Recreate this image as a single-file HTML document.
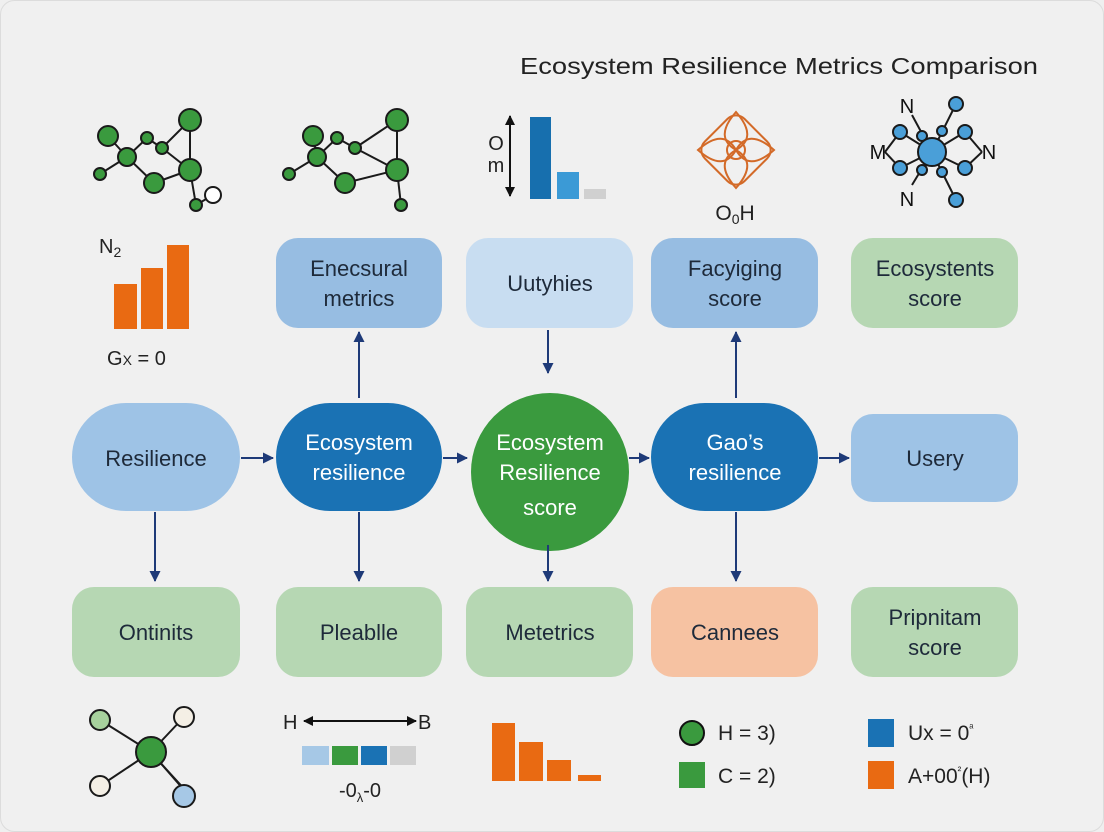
<!DOCTYPE html>
<html><head><meta charset="utf-8"><style>
html,body{margin:0;padding:0;background:#efefef;}
svg{display:block;font-family:"Liberation Sans",sans-serif;}
</style></head><body>
<svg width="1104" height="832" viewBox="0 0 1104 832">
<defs>
<marker id="ah" markerWidth="11" markerHeight="11" refX="10" refY="5.5" orient="auto" markerUnits="userSpaceOnUse"><path d="M0,0 L11,5.5 L0,11 Z" fill="#1e3a78"/></marker>
<marker id="ab" markerWidth="10" markerHeight="10" refX="9" refY="5" orient="auto-start-reverse" markerUnits="userSpaceOnUse"><path d="M0,0 L10,5 L0,10 Z" fill="#111"/></marker>
</defs>
<rect x="0.5" y="0.5" width="1103" height="831" rx="14" fill="#f0f0f0" stroke="#dcdcdc"/>
<text x="520" y="74" font-size="23" textLength="518" lengthAdjust="spacingAndGlyphs" fill="#222">Ecosystem Resilience Metrics Comparison</text>

<!-- network icon 1 -->
<g stroke="#1a1a1a" stroke-width="2">
<line x1="108" y1="136" x2="127" y2="157"/><line x1="100" y1="174" x2="127" y2="157"/><line x1="127" y1="157" x2="147" y2="138"/><line x1="147" y1="138" x2="162" y2="148"/><line x1="162" y1="148" x2="190" y2="120"/><line x1="190" y1="120" x2="190" y2="170"/><line x1="162" y1="148" x2="190" y2="170"/><line x1="127" y1="157" x2="154" y2="183"/><line x1="154" y1="183" x2="190" y2="170"/><line x1="190" y1="170" x2="196" y2="205"/><line x1="196" y1="205" x2="213" y2="195"/>
<g fill="#3a9a3e"><circle cx="108" cy="136" r="10"/><circle cx="100" cy="174" r="6"/><circle cx="127" cy="157" r="9"/><circle cx="147" cy="138" r="6"/><circle cx="162" cy="148" r="6"/><circle cx="190" cy="120" r="11"/><circle cx="190" cy="170" r="11"/><circle cx="154" cy="183" r="10"/><circle cx="196" cy="205" r="6"/></g>
<circle cx="213" cy="195" r="8" fill="#fff"/>
</g>
<!-- network icon 2 -->
<g stroke="#1a1a1a" stroke-width="2">
<line x1="313" y1="136" x2="317" y2="157"/><line x1="289" y1="174" x2="317" y2="157"/><line x1="317" y1="157" x2="337" y2="138"/><line x1="337" y1="138" x2="355" y2="148"/><line x1="355" y1="148" x2="397" y2="120"/><line x1="397" y1="120" x2="397" y2="170"/><line x1="355" y1="148" x2="397" y2="170"/><line x1="317" y1="157" x2="345" y2="183"/><line x1="345" y1="183" x2="397" y2="170"/><line x1="397" y1="170" x2="401" y2="205"/>
<g fill="#3a9a3e"><circle cx="313" cy="136" r="10"/><circle cx="289" cy="174" r="6"/><circle cx="317" cy="157" r="9"/><circle cx="337" cy="138" r="6"/><circle cx="355" cy="148" r="6"/><circle cx="397" cy="120" r="11"/><circle cx="397" cy="170" r="11"/><circle cx="345" cy="183" r="10"/><circle cx="401" cy="205" r="6"/></g>
</g>
<!-- bar icon top -->
<line x1="510" y1="116" x2="510" y2="196" stroke="#111" stroke-width="2" marker-start="url(#ab)" marker-end="url(#ab)"/>
<text x="496" y="150" font-size="20" text-anchor="middle" fill="#222">O</text>
<text x="496" y="172" font-size="20" text-anchor="middle" fill="#222">m</text>
<rect x="530" y="117" width="21" height="82" fill="#176fae"/>
<rect x="557" y="172" width="22" height="27" fill="#3b9ad6"/>
<rect x="584" y="189" width="22" height="10" fill="#d0d0d0"/>
<!-- orange knot -->
<g fill="none" stroke="#d36a28" stroke-width="2">
<rect x="708" y="122" width="56" height="56" rx="12" transform="rotate(45 736 150)"/>
<circle cx="736" cy="150" r="9"/>
<path d="M736 112 C720 130,722 142,736 150 C750 142,752 130,736 112 Z"/>
<path d="M736 188 C720 170,722 158,736 150 C750 158,752 170,736 188 Z"/>
<path d="M698 150 C716 134,728 136,736 150 C728 164,716 166,698 150 Z"/>
<path d="M774 150 C756 134,744 136,736 150 C744 164,756 166,774 150 Z"/>
</g>
<text x="735" y="220" font-size="21" text-anchor="middle" fill="#222">O<tspan font-size="14" dy="4">0</tspan><tspan dy="-4">H</tspan></text>
<!-- blue molecule -->
<g stroke="#1a1a1a" stroke-width="2">
<line x1="912" y1="115" x2="932" y2="152"/><line x1="956" y1="104" x2="932" y2="152"/><line x1="900" y1="132" x2="932" y2="152"/><line x1="965" y1="132" x2="932" y2="152"/><line x1="900" y1="168" x2="932" y2="152"/><line x1="965" y1="168" x2="932" y2="152"/><line x1="912" y1="185" x2="932" y2="152"/><line x1="956" y1="200" x2="932" y2="152"/><line x1="885" y1="152" x2="900" y2="132"/><line x1="885" y1="152" x2="900" y2="168"/><line x1="982" y1="152" x2="965" y2="132"/><line x1="982" y1="152" x2="965" y2="168"/>
<g fill="#4a9fd8"><circle cx="956" cy="104" r="7"/><circle cx="900" cy="132" r="7"/><circle cx="965" cy="132" r="7"/><circle cx="900" cy="168" r="7"/><circle cx="965" cy="168" r="7"/><circle cx="956" cy="200" r="7"/><circle cx="922" cy="136" r="5"/><circle cx="942" cy="131" r="5"/><circle cx="922" cy="170" r="5"/><circle cx="942" cy="172" r="5"/><circle cx="932" cy="152" r="14"/></g>
</g>
<text x="907" y="113" font-size="20" text-anchor="middle" fill="#111">N</text>
<text x="878" y="159" font-size="20" text-anchor="middle" fill="#111">M</text>
<text x="989" y="159" font-size="20" text-anchor="middle" fill="#111">N</text>
<text x="907" y="206" font-size="20" text-anchor="middle" fill="#111">N</text>
<!-- orange bars left -->
<text x="99" y="253" font-size="20" fill="#222">N<tspan font-size="14" dy="4">2</tspan></text>
<rect x="114" y="284" width="23" height="45" fill="#e96a12"/>
<rect x="141" y="268" width="22" height="61" fill="#e96a12"/>
<rect x="167" y="245" width="22" height="84" fill="#e96a12"/>
<text x="107" y="365" font-size="20" fill="#222">G<tspan font-size="14">X</tspan> = 0</text>

<!-- top row boxes -->
<g font-size="22" text-anchor="middle" fill="#1e2a3a">
<rect x="276" y="238" width="166" height="90" rx="22" fill="#97bde2"/>
<text x="359" y="276">Enecsural</text><text x="359" y="306">metrics</text>
<rect x="466" y="238" width="167" height="90" rx="22" fill="#c8ddf1"/>
<text x="550" y="291">Uutyhies</text>
<rect x="651" y="238" width="167" height="90" rx="22" fill="#97bde2"/>
<text x="735" y="276">Facyiging</text><text x="735" y="306">score</text>
<rect x="851" y="238" width="167" height="90" rx="22" fill="#b6d7b3"/>
<text x="935" y="276">Ecosystents</text><text x="935" y="306">score</text>

<!-- middle row -->
<rect x="72" y="403" width="168" height="108" rx="54" fill="#9ec3e6"/>
<text x="156" y="466">Resilience</text>
<rect x="276" y="403" width="166" height="108" rx="54" fill="#1a72b4"/>
<text x="359" y="450" fill="#fff">Ecosystem</text><text x="359" y="480" fill="#fff">resilience</text>
<circle cx="550" cy="472" r="79" fill="#3a9a3e"/>
<text x="550" y="450" fill="#fff">Ecosystem</text><text x="550" y="480" fill="#fff">Resilience</text><text x="550" y="515" fill="#fff">score</text>
<rect x="651" y="403" width="167" height="108" rx="54" fill="#1a72b4"/>
<text x="735" y="450" fill="#fff">Gao’s</text><text x="735" y="480" fill="#fff">resilience</text>
<rect x="851" y="414" width="167" height="88" rx="22" fill="#9ec3e6"/>
<text x="935" y="466">Usery</text>

<!-- bottom row -->
<rect x="72" y="587" width="168" height="90" rx="22" fill="#b6d7b3"/>
<text x="156" y="640">Ontinits</text>
<rect x="276" y="587" width="166" height="90" rx="22" fill="#b6d7b3"/>
<text x="359" y="640">Pleablle</text>
<rect x="466" y="587" width="167" height="90" rx="22" fill="#b6d7b3"/>
<text x="550" y="640">Metetrics</text>
<rect x="651" y="587" width="167" height="90" rx="22" fill="#f6c2a2"/>
<text x="735" y="640">Cannees</text>
<rect x="851" y="587" width="167" height="90" rx="22" fill="#b6d7b3"/>
<text x="935" y="625">Pripnitam</text><text x="935" y="655">score</text>
</g>

<!-- arrows -->
<g stroke="#1e3a78" stroke-width="2" marker-end="url(#ah)">
<line x1="241" y1="458" x2="273" y2="458"/>
<line x1="443" y1="458" x2="467" y2="458"/>
<line x1="629" y1="458" x2="649" y2="458"/>
<line x1="819" y1="458" x2="849" y2="458"/>
<line x1="155" y1="512" x2="155" y2="581"/>
<line x1="359" y1="512" x2="359" y2="581"/>
<line x1="359" y1="398" x2="359" y2="332"/>
<line x1="548" y1="330" x2="548" y2="373"/>
<line x1="548" y1="545" x2="548" y2="581"/>
<line x1="736" y1="398" x2="736" y2="332"/>
<line x1="736" y1="512" x2="736" y2="581"/>
</g>

<!-- bottom icons -->
<g stroke="#1a1a1a" stroke-width="2">
<line x1="100" y1="720" x2="151" y2="752"/><line x1="184" y1="717" x2="151" y2="752"/><line x1="100" y1="786" x2="151" y2="752"/><line x1="151" y1="752" x2="184" y2="790"/><line x1="155" y1="757" x2="188" y2="793"/>
<circle cx="100" cy="720" r="10" fill="#a7d19d"/><circle cx="184" cy="717" r="10" fill="#f4efe5"/><circle cx="100" cy="786" r="10" fill="#f4efe5"/><circle cx="184" cy="796" r="11" fill="#a6c8e6"/><circle cx="151" cy="752" r="15" fill="#3a9a3e"/>
</g>
<text x="283" y="729" font-size="20" fill="#222">H</text>
<line x1="304" y1="721" x2="416" y2="721" stroke="#111" stroke-width="2" marker-start="url(#ab)" marker-end="url(#ab)"/>
<text x="418" y="729" font-size="20" fill="#222">B</text>
<rect x="302" y="746" width="27" height="19" fill="#a6c8e6"/>
<rect x="332" y="746" width="26" height="19" fill="#3a9a3e"/>
<rect x="361" y="746" width="26" height="19" fill="#1a72b4"/>
<rect x="390" y="746" width="26" height="19" fill="#d0d0d0"/>
<text x="360" y="797" font-size="20" text-anchor="middle" fill="#222">-0<tspan font-size="13" dy="5">λ</tspan><tspan dy="-5">-0</tspan></text>
<rect x="492" y="723" width="23" height="58" fill="#e96a12"/>
<rect x="519" y="742" width="24" height="39" fill="#e96a12"/>
<rect x="547" y="760" width="24" height="21" fill="#e96a12"/>
<rect x="578" y="775" width="23" height="6" fill="#e96a12"/>
<circle cx="692" cy="733" r="12" fill="#3a9a3e" stroke="#111" stroke-width="2"/>
<text x="718" y="740" font-size="21" fill="#222">H = 3)</text>
<rect x="679" y="762" width="26" height="26" fill="#3a9a3e"/>
<text x="718" y="783" font-size="21" fill="#222">C = 2)</text>
<rect x="868" y="719" width="26" height="28" fill="#1a72b4"/>
<text x="908" y="740" font-size="21" fill="#222">Ux = 0<tspan font-size="11" dy="-9">ᵃ</tspan></text>
<rect x="868" y="761" width="26" height="28" fill="#e96a12"/>
<text x="908" y="783" font-size="21" fill="#222">A+00<tspan font-size="11" dy="-9">²</tspan><tspan dy="9">(H)</tspan></text>
</svg>
</body></html>
